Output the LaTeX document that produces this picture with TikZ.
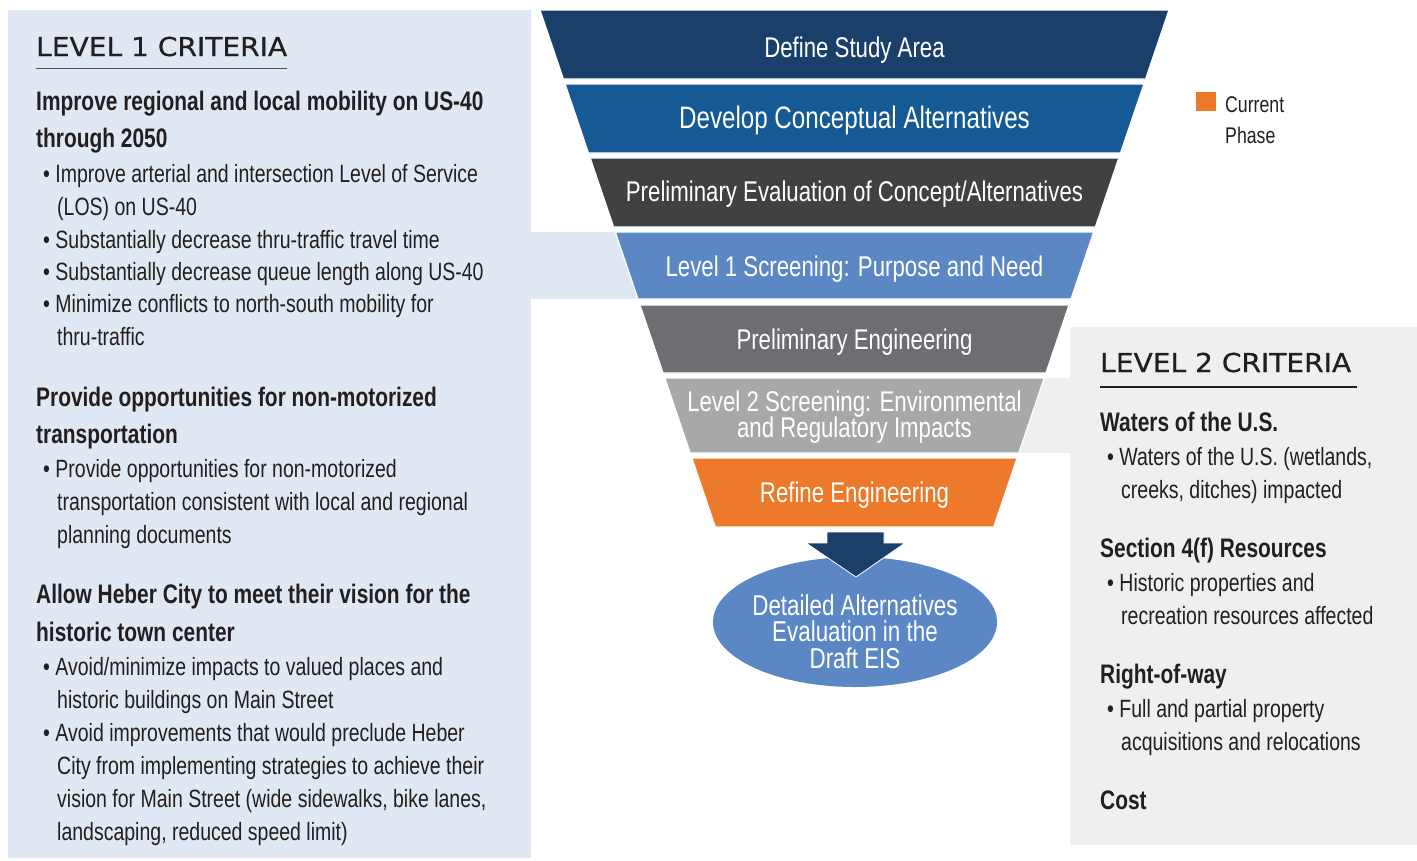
\documentclass[tikz,border=0pt]{standalone}
\usepackage{fontspec}
\setmainfont{Liberation Sans}
\newfontfamily\cond[FakeStretch=0.78]{Liberation Sans}
\newfontfamily\geo[FakeBold=0.6, FakeStretch=1.08]{DejaVu Sans}
\usetikzlibrary{shapes.geometric}

\definecolor{panelblue}{HTML}{E0E8F3}
\definecolor{panelgray}{HTML}{EFEFEF}
\definecolor{navy}{HTML}{1A3F6A}
\definecolor{midblue}{HTML}{165A95}
\definecolor{charcoal}{HTML}{414142}
\definecolor{skyblue}{HTML}{5B87C5}
\definecolor{slate}{HTML}{6D6E71}
\definecolor{silver}{HTML}{A7A8AA}
\definecolor{phase}{HTML}{EC7A2A}
\definecolor{ink}{HTML}{231F20}
\definecolor{rule}{HTML}{4F5055}

\tikzset{
  title/.style={anchor=base west, inner sep=0pt, font=\geo\fontsize{26}{30}\selectfont, text=ink},
  head/.style={anchor=base west, inner sep=0pt, font=\cond\bfseries\fontsize{26.8}{30}\selectfont, text=ink},
  body/.style={anchor=base west, inner sep=0pt, font=\cond\fontsize{25}{30}\selectfont, text=ink},
  legendtext/.style={anchor=base west, inner sep=0pt, font=\cond\fontsize{22.7}{26}\selectfont, text=ink},
  stage/.style={anchor=base, inner sep=0pt, text depth=0pt, font=\cond\fontsize{28.5}{30}\selectfont, text=white},
  outcome/.style={stage, font=\cond\fontsize{28.7}{30}\selectfont},
  band/.style={draw=white, line width=1.2pt},
}

\begin{document}
\begin{tikzpicture}[x=1pt, y=-1pt]
\useasboundingbox (0,0) rectangle (1417,860);
\fill[white] (0,0) rectangle (1417,860);

% criteria panels and their tabs towards the funnel
\fill[panelblue] (8,10) rectangle (531,858);
\fill[panelblue] (531,232) rectangle (645,299);
\fill[panelgray] (1070,327) rectangle (1417,845);
\fill[panelgray] (1000,378) rectangle (1070,453);

% funnel stages
\fill[navy, band]     (540.0,10)  -- (1169.0,10)  -- (1145.6,79)  -- (563.4,79)  -- cycle;
\fill[midblue, band]  (565.1,84)  -- (1143.9,84)  -- (1120.5,153) -- (588.5,153) -- cycle;
\fill[charcoal, band] (590.2,158) -- (1118.8,158) -- (1095.4,227) -- (613.6,227) -- cycle;
\fill[skyblue, band]  (615.3,232) -- (1093.7,232) -- (1071.0,299) -- (638.0,299) -- cycle;
\fill[slate, band]    (640.0,305) -- (1069.0,305) -- (1045.9,373) -- (663.1,373) -- cycle;
\fill[silver, band]   (664.8,378) -- (1044.2,378) -- (1018.8,453) -- (690.2,453) -- cycle;
\fill[phase, band]    (691.9,458) -- (1017.1,458) -- (993.7,527)  -- (715.3,527) -- cycle;

\node[stage] (s1) at (854.5,57) {Define Study Area};
\node[stage, font=\cond\fontsize{31}{32}\selectfont] (s2) at (854.5,128) {Develop Conceptual Alternatives};
\node[stage] (s3) at (854.5,201) {Preliminary Evaluation of Concept/Alternatives};
\node[stage] (s4) at (854.5,276) {Level 1 Screening: Purpose and Need};
\node[stage] (s5) at (854.5,349) {Preliminary Engineering};
\node[stage] (s6a) at (854.5,411) {Level 2 Screening: Environmental};
\node[stage] (s6b) at (854.5,437) {and Regulatory Impacts};
\node[stage] (s7) at (854.5,502) {Refine Engineering};

% outcome
\node[ellipse, fill=skyblue, minimum width=284pt, minimum height=130pt, inner sep=0pt] (eis) at (855,622) {};
\fill[navy, draw=white, line width=0.8pt] (827,532) -- (884,532) -- (884,543) -- (905,543) -- (856,577) -- (806,543) -- (827,543) -- cycle;
\node[outcome] (e1) at (855,615) {Detailed Alternatives};
\node[outcome] (e2) at (855,641.5) {Evaluation in the};
\node[outcome] (e3) at (855,668) {Draft EIS};

% legend
\node[fill=phase, minimum width=20pt, minimum height=19pt, inner sep=0pt] (key) at (1206,101.5) {};
\node[legendtext] (k1) at (1225,112) {Current};
\node[legendtext] (k2) at (1225,143) {Phase};

% level 1 criteria
\node[title] (t1) at (36,56) {LEVEL 1 CRITERIA};
\draw[rule, line width=1.3pt] (36,68.5) -- (287,68.5);
\node[head] (h1a) at (36,110) {Improve regional and local mobility on US-40};
\node[head] (h1b) at (36,147) {through 2050};
\node[body] (b1) at (43,182) {• Improve arterial and intersection Level of Service};
\node[body] (b1c) at (57,215) {(LOS) on US-40};
\node[body] (b2) at (43,248) {• Substantially decrease thru-traffic travel time};
\node[body] (b3) at (43,280) {• Substantially decrease queue length along US-40};
\node[body] (b4) at (43,312) {• Minimize conflicts to north-south mobility for};
\node[body] (b4c) at (57,345) {thru-traffic};

\node[head] (h2a) at (36,406) {Provide opportunities for non-motorized};
\node[head] (h2b) at (36,443) {transportation};
\node[body] (b5) at (43,477) {• Provide opportunities for non-motorized};
\node[body] (b5c) at (57,510) {transportation consistent with local and regional};
\node[body] (b5d) at (57,543) {planning documents};

\node[head] (h3a) at (36,603) {Allow Heber City to meet their vision for the};
\node[head] (h3b) at (36,641) {historic town center};
\node[body] (b6) at (43,675) {• Avoid/minimize impacts to valued places and};
\node[body] (b6c) at (57,708) {historic buildings on Main Street};
\node[body] (b7) at (43,741) {• Avoid improvements that would preclude Heber};
\node[body] (b7c) at (57,774) {City from implementing strategies to achieve their};
\node[body] (b7d) at (57,807) {vision for Main Street (wide sidewalks, bike lanes,};
\node[body] (b7e) at (57,840) {landscaping, reduced speed limit)};

% level 2 criteria
\node[title] (t2) at (1100,372) {LEVEL 2 CRITERIA};
\draw[ink, line width=1.3pt] (1100,387) -- (1357,387);
\node[head] (r1) at (1100,431) {Waters of the U.S.};
\node[body] (r1a) at (1107,465) {• Waters of the U.S. (wetlands,};
\node[body] (r1b) at (1121,498) {creeks, ditches) impacted};
\node[head] (r2) at (1100,557) {Section 4(f) Resources};
\node[body] (r2a) at (1107,591) {• Historic properties and};
\node[body] (r2b) at (1121,624) {recreation resources affected};
\node[head] (r3) at (1100,683) {Right-of-way};
\node[body] (r3a) at (1107,717) {• Full and partial property};
\node[body] (r3b) at (1121,750) {acquisitions and relocations};
\node[head] (r4) at (1100,809) {Cost};
\end{tikzpicture}
\end{document}
